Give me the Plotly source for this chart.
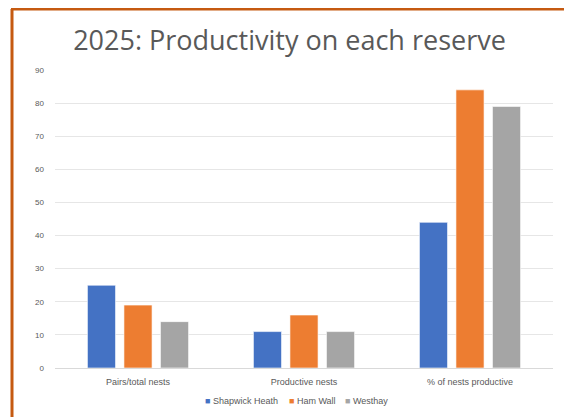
import plotly.graph_objects as go

categories = ["Pairs/total nests", "Productive nests", "% of nests productive"]
shapwick_heath = [25, 11, 44]
ham_wall = [19, 16, 84]
westhay = [14, 11, 79]
series_names = ["Shapwick Heath", "Ham Wall", "Westhay"]
colors = ["#4472C4", "#ED7D31", "#A5A5A5"]
y_ticks = list(range(0, 91, 10))

# page body has an 8px margin, so positions are given in screen pixels and shifted
O = 8
W, H = 572, 417
plot_left, plot_right, plot_top, plot_bottom = 55, 553, 70, 368
L, R = plot_left - O, W - (plot_right - O)
T, B = plot_top - O, H - (plot_bottom - O)
pw, ph = W - L - R, H - T - B

def px(x):
    return (x - O - L) / pw

def py(y):
    return (H - B - (y - O)) / ph

fig = go.Figure()
for name, vals, col in zip(series_names, [shapwick_heath, ham_wall, westhay], colors):
    fig.add_trace(go.Bar(
        x=categories, y=vals, name=name, showlegend=False,
        marker=dict(color=col, line=dict(color="rgba(255,255,255,0.6)", width=1)),
    ))

fig.update_layout(
    width=W, height=H,
    margin=dict(l=L, r=R, t=T, b=B, autoexpand=False),
    paper_bgcolor="white", plot_bgcolor="white",
    barmode="group", bargap=0.34, bargroupgap=0.23,
    title=dict(text="2025: Productivity on each reserve",
               x=(289.5 - O) / W, xanchor="center", xref="container",
               y=1 - (41 - O) / H, yanchor="middle", yref="container",
               font=dict(family="Open Sans", size=27, color="#595959")),
    font=dict(family="Liberation Sans", color="#595959"),
)
fig.update_xaxes(showgrid=False, showline=False, ticks="", automargin=False,
                 tickfont=dict(size=9, color="#595959"), ticklabelstandoff=7)
fig.update_yaxes(range=[0, 90], tickvals=y_ticks, showgrid=True, gridcolor="#E6E6E6",
                 gridwidth=1, zeroline=True, zerolinecolor="#D9D9D9", zerolinewidth=1,
                 showline=False, ticks="", automargin=False,
                 tickfont=dict(size=8, color="#595959"), ticklabelstandoff=10)

# legend drawn as text entries
legend_x = [203, 287, 343]
for name, col, lx in zip(series_names, colors, legend_x):
    fig.add_annotation(xref="paper", yref="paper", x=px(lx), y=py(401),
                       xanchor="left", yanchor="middle", showarrow=False,
                       text=f"<span style='color:{col}'>■</span> {name}",
                       font=dict(family="Liberation Sans", size=9, color="#595959"))

border = "#C55A11"
fig.add_shape(type="line", xref="paper", yref="paper",
              x0=px(12), x1=px(12), y0=py(9), y1=py(440),
              line=dict(color=border, width=3))
fig.add_shape(type="line", xref="paper", yref="paper",
              x0=px(11), x1=px(571), y0=py(9), y1=py(9),
              line=dict(color=border, width=3))
fig.add_shape(type="line", xref="paper", yref="paper",
              x0=px(570), x1=px(570), y0=py(9), y1=py(440),
              line=dict(color="#EBA97E", width=1))

fig.write_html("out.html")
